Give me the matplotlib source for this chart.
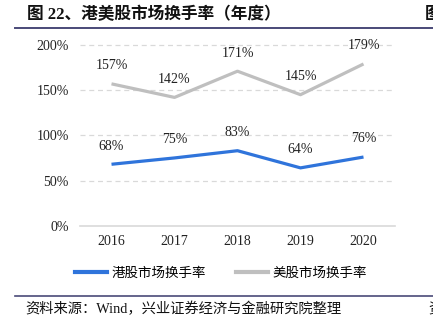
import matplotlib
matplotlib.use('Agg')
import matplotlib.pyplot as plt
from matplotlib.lines import Line2D

plt.rcParams['font.family'] = ['Liberation Serif', 'Noto Sans CJK SC', 'DejaVu Sans']

# data
years = ['2016', '2017', '2018', '2019', '2020']
hk_turnover = [68, 75, 83, 64, 76]
us_turnover = [157, 142, 171, 145, 179]
y_ticks = [0, 50, 100, 150, 200]

hk_color = '#2F74DB'
us_color = '#BFBFBF'

fig = plt.figure(figsize=(4.33, 3.26), dpi=100)
ax = fig.add_axes([80 / 433, 1 - 225.7 / 326, 315 / 433, 180.7 / 326])

x = list(range(len(years)))
ax.plot(x, hk_turnover, color=hk_color, lw=2.3, solid_capstyle='butt', zorder=3)
ax.plot(x, us_turnover, color=us_color, lw=2.3, solid_capstyle='butt', zorder=3)

for xi, v in zip(x, hk_turnover):
    ax.annotate(f'{v}%', (xi, v), xytext=(0, 13), textcoords='offset points',
                ha='center', va='center', fontsize=10, color='#222222')
for xi, v in zip(x, us_turnover):
    ax.annotate(f'{v}%', (xi, v), xytext=(0, 13), textcoords='offset points',
                ha='center', va='center', fontsize=10, color='#222222')

ax.set_xlim(-0.5, len(years) - 0.5)
ax.set_ylim(0, 200)
ax.set_xticks(x)
ax.set_xticklabels(years, fontsize=10, color='#222222')
ax.set_yticks(y_ticks)
ax.set_yticklabels([f'{t}%' for t in y_ticks], fontsize=10, color='#222222')
ax.tick_params(length=0, pad=8)
ax.tick_params(axis='x', pad=7)

for t in y_ticks[1:]:
    ax.axhline(t, color='#D9D9D9', lw=0.9, ls=(0, (4, 3)), zorder=1)
ax.axhline(0, color='#D9D9D9', lw=1.2, zorder=1)
for s in ax.spines.values():
    s.set_visible(False)
for l in ax.lines:
    l.set_clip_on(False)

# legend
handles = [Line2D([], [], color=hk_color, lw=3),
           Line2D([], [], color=us_color, lw=3)]
fig.legend(handles, ['港股市场换手率', '美股市场换手率'], loc='center',
           bbox_to_anchor=(0.51, 1 - 273 / 326), ncol=2, frameon=False,
           handlelength=2.4, handletextpad=0.3, columnspacing=2.2,
           prop={'family': ['Noto Sans CJK SC'], 'size': 9.7})

# header / footer
fig.text(27 / 433, 1 - 15 / 326, '图 22、港美股市场换手率（年度）', fontsize=12,
         fontweight='bold', ha='left', va='center', color='#111111')
fig.text(425 / 433, 1 - 15 / 326, '图', fontsize=12, fontweight='bold',
         ha='left', va='center', color='#111111')
fig.add_artist(Line2D([15 / 433, 1], [1 - 27.5 / 326] * 2, color='#4A4A78', lw=1.4))
fig.add_artist(Line2D([15 / 433, 1], [1 - 295.5 / 326] * 2, color='#4A4A78', lw=1.2))
fig.text(25 / 433, 1 - 309 / 326, '资料来源：Wind，兴业证券经济与金融研究院整理',
         fontsize=10.3, ha='left', va='center', color='#111111')
fig.text(428 / 433, 1 - 309 / 326, '资', fontsize=10.3, ha='left', va='center',
         color='#111111')

fig.savefig('out.png', dpi=100)
